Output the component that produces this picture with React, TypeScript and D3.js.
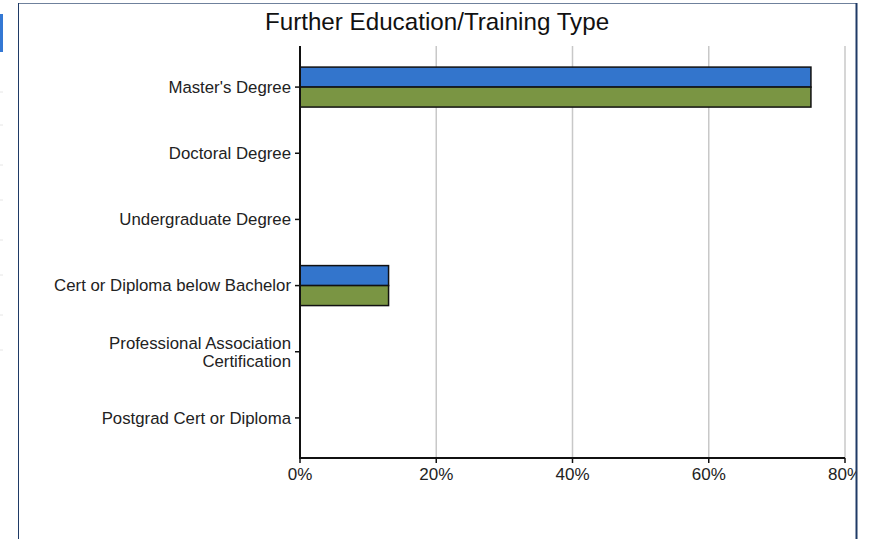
import { useEffect, useRef } from "react";
import * as d3 from "d3";

const categories = [
  "Master's Degree",
  "Doctoral Degree",
  "Undergraduate Degree",
  "Cert or Diploma below Bachelor",
  "Professional Association\nCertification",
  "Postgrad Cert or Diploma",
];
const seriesNames = ["Group", "Overall"];
const groupValues = [75, 0, 0, 13, 0, 0];
const overallValues = [75, 0, 0, 13, 0, 0];
const seriesColors = ["#3375cc", "#7a9543"];
const xTicks = [0, 20, 40, 60, 80];
const chartTitle = "Further Education/Training Type";

const App = () => {
  const svgRef = useRef<SVGSVGElement>(null);

  useEffect(() => {
    if (!svgRef.current) return;
    const svg = d3.select(svgRef.current);
    svg.selectAll("*").remove();

    const height = 539;
    const font = "'Liberation Sans', Arial, sans-serif";

    const left = 300;
    const right = 845;
    const top = 46;
    const bottom = 458;

    const x = d3.scaleLinear().domain([0, 80]).range([left, right]);
    const y = d3.scaleBand<string>().domain(categories).range([54, 451]).padding(0);
    const ySub = d3
      .scaleBand<string>()
      .domain(seriesNames)
      .range([0, y.bandwidth()])
      .paddingInner(0)
      .paddingOuter(0.655);

    const rows = categories.map((c, i) => ({
      category: c,
      values: [groupValues[i], overallValues[i]],
    }));

    // left side strip (outside the frame)
    svg.append("rect").attr("x", 0).attr("y", 14).attr("width", 3).attr("height", 38).attr("fill", "#3478d4");
    [92, 125, 165, 200, 240, 275, 315, 350].forEach((yy) => {
      svg.append("line")
        .attr("x1", 0).attr("x2", 3).attr("y1", yy).attr("y2", yy)
        .attr("stroke", "#e6e6e6").attr("stroke-width", 1);
    });

    svg.append("defs").append("clipPath").attr("id", "frame-clip")
      .append("rect").attr("x", 19).attr("y", 4).attr("width", 837).attr("height", height);

    const g = svg.append("g").attr("clip-path", "url(#frame-clip)");

    // title
    g.append("text")
      .attr("x", 437)
      .attr("y", 30)
      .attr("text-anchor", "middle")
      .attr("font-family", font)
      .attr("font-size", 24.2)
      .attr("fill", "#111")
      .text(chartTitle);

    // grid
    g.append("g")
      .selectAll("line")
      .data(xTicks.filter((t) => t > 0))
      .enter()
      .append("line")
      .attr("x1", (d) => x(d))
      .attr("x2", (d) => x(d))
      .attr("y1", top)
      .attr("y2", bottom)
      .attr("stroke", "#c8c8c8")
      .attr("stroke-width", 1.5);

    // bars
    rows.forEach((row) => {
      g.append("g")
        .attr("transform", `translate(0, ${y(row.category)})`)
        .selectAll("rect")
        .data(row.values.filter((v) => v > 0).map((v, i) => ({ v, s: seriesNames[i], c: seriesColors[i] })))
        .enter()
        .append("rect")
        .attr("x", x(0))
        .attr("y", (d) => ySub(d.s) ?? 0)
        .attr("width", (d) => x(d.v) - x(0))
        .attr("height", ySub.bandwidth())
        .attr("fill", (d) => d.c)
        .attr("stroke", "#111")
        .attr("stroke-width", 1.5);
    });

    // x axis
    const xAxis = g.append("g").attr("transform", `translate(0, ${bottom})`);
    xAxis.append("line")
      .attr("x1", left).attr("x2", right).attr("y1", 0).attr("y2", 0)
      .attr("stroke", "#111").attr("stroke-width", 2);
    const xt = xAxis.selectAll("g.tick").data(xTicks).enter().append("g")
      .attr("transform", (d) => `translate(${x(d)}, 0)`);
    xt.append("line").attr("y1", 0).attr("y2", 5).attr("stroke", "#111").attr("stroke-width", 1.5);
    xt.append("text")
      .attr("y", 22)
      .attr("text-anchor", "middle")
      .attr("font-family", font)
      .attr("font-size", 17)
      .attr("fill", "#222")
      .text((d) => `${d}%`);

    // y axis
    const yAxis = g.append("g");
    yAxis.append("line")
      .attr("x1", left).attr("x2", left).attr("y1", top).attr("y2", bottom + 1)
      .attr("stroke", "#111").attr("stroke-width", 2);
    const yt = yAxis.selectAll("g.tick").data(categories).enter().append("g")
      .attr("transform", (d) => `translate(${left}, ${(y(d) ?? 0) + y.bandwidth() / 2})`);
    yt.append("line").attr("x1", -5).attr("x2", 0).attr("stroke", "#111").attr("stroke-width", 1.5);
    yt.append("text")
      .attr("x", -9)
      .attr("text-anchor", "end")
      .attr("font-family", font)
      .attr("font-size", 16.8)
      .attr("fill", "#222")
      .each(function (d) {
        const lines = d.split("\n");
        const t = d3.select(this);
        lines.forEach((ln, i) => {
          t.append("tspan")
            .attr("x", -9)
            .attr("dy", i === 0 ? `${0.35 - (lines.length - 1) * 0.53}em` : "1.06em")
            .text(ln);
        });
      });

    // frame
    svg.append("line").attr("x1", 18.5).attr("x2", 856).attr("y1", 3.5).attr("y2", 3.5)
      .attr("stroke", "#6f819c").attr("stroke-width", 1);
    svg.append("line").attr("x1", 18.5).attr("x2", 18.5).attr("y1", 3).attr("y2", height)
      .attr("stroke", "#1f3a66").attr("stroke-width", 1);
    svg.append("line").attr("x1", 856.5).attr("x2", 856.5).attr("y1", 3).attr("y2", height)
      .attr("stroke", "#1f3a66").attr("stroke-width", 2);
  }, []);

  return (
    <div style={{ position: "absolute", left: 0, top: 0, background: "#fff" }}>
      <svg ref={svgRef} width={879} height={539} style={{ display: "block" }} />
    </div>
  );
};

export default App;
